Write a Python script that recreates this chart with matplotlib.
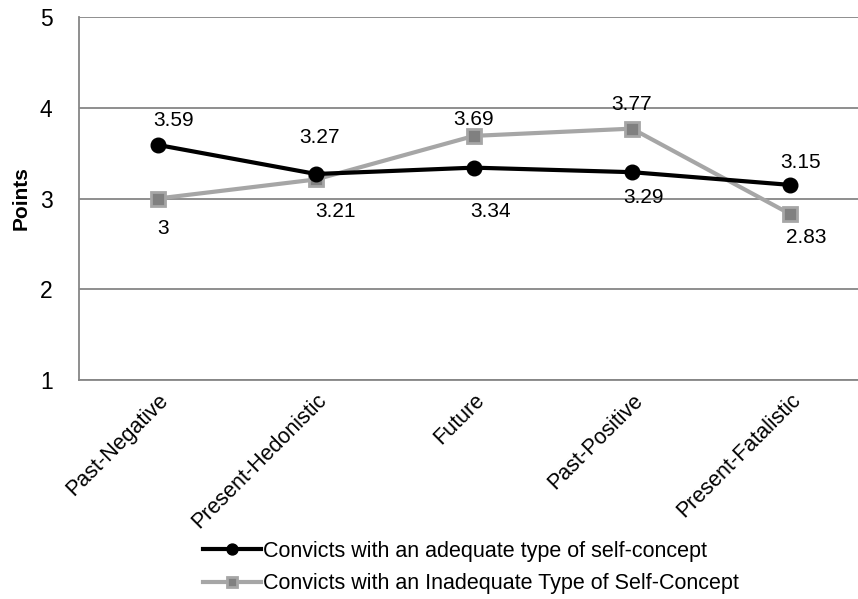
import matplotlib
matplotlib.use('Agg')
import matplotlib.pyplot as plt
import numpy as np

plt.rcParams['font.family'] = ['Liberation Sans', 'DejaVu Sans']

categories = ['Past-Negative', 'Present-Hedonistic', 'Future', 'Past-Positive', 'Present-Fatalistic']
adequate = [3.59, 3.27, 3.34, 3.29, 3.15]
inadequate = [3.00, 3.21, 3.69, 3.77, 2.83]
adequate_labels = ['3.59', '3.27', '3.34', '3.29', '3.15']
inadequate_labels = ['3', '3.21', '3.69', '3.77', '2.83']

# label offsets in pixels (dx, dy) relative to the marker
adq_off = [(16, 24), (3, 36), (17, -44), (11, -25), (11, 22)]
inadq_off = [(5, -30), (20, -32), (0, 16), (0, 24), (16, -24)]

W, H = 858, 599
fig = plt.figure(figsize=(W / 100, H / 100), dpi=100)
ax = fig.add_axes([79 / W, (H - 380) / H, 790 / W, 363 / H])

x = np.arange(len(categories))
ax.plot(x, adequate, color='black', lw=3, marker='o', ms=10.5, zorder=4,
        label='Convicts with an adequate type of self-concept')
ax.plot(x, inadequate, color='#a6a6a6', lw=3, marker='s', ms=10.5,
        mfc='#808080', mec='#a6a6a6', mew=2, zorder=3,
        label='Convicts with an Inadequate Type of Self-Concept')

for i in range(len(x)):
    ax.annotate(adequate_labels[i], (x[i], adequate[i]), xytext=adq_off[i],
                textcoords='offset pixels', ha='center', va='center', fontsize=15)
    ax.annotate(inadequate_labels[i], (x[i], inadequate[i]), xytext=inadq_off[i],
                textcoords='offset pixels', ha='center', va='center', fontsize=15)

ax.set_xlim(-0.5, 4.5)
ax.set_ylim(1, 5)
ax.set_yticks([1, 2, 3, 4, 5])
ax.yaxis.grid(True, color='#868686', lw=1.3)
ax.set_axisbelow(True)
ax.tick_params(axis='y', length=0, pad=19, labelsize=16.5)
ax.tick_params(axis='x', length=0, pad=7, labelsize=15.5)
ax.set_xticks(x)
ax.set_xticklabels(categories, rotation=45, ha='right', rotation_mode='anchor')
for s in ['top', 'right']:
    ax.spines[s].set_visible(False)
for s in ['left', 'bottom']:
    ax.spines[s].set_color('#868686')
    ax.spines[s].set_linewidth(1.3)
ax.set_ylabel('Points', fontsize=15, fontweight='bold', labelpad=7)

fig.legend(loc='upper left', bbox_to_anchor=(194 / W, 1 - 532 / H), frameon=False,
           fontsize=15.5, handlelength=2.7, handletextpad=0.1, labelspacing=0.55,
           borderaxespad=0, markerscale=0.75)

fig.savefig('out.png', dpi=100)
